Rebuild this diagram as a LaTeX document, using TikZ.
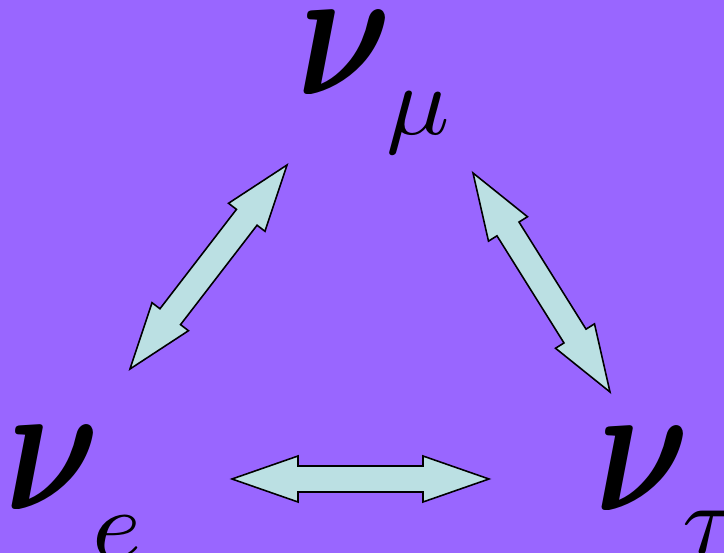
\documentclass[tikz,border=0pt]{standalone}
\usepackage{amsmath}
\usepackage{bm}
\usepackage{graphicx}
\usepackage{xcolor}
\usepackage{tikz}
\usetikzlibrary{calc}
\definecolor{slide}{HTML}{9966FF}
\definecolor{arrowfill}{HTML}{BBE0E3}
\newcommand{\headlen}{1.32cm}
\newcommand{\headhw}{0.46cm}
\newcommand{\shafthw}{0.26cm}
\newcommand{\flavnu}{\scalebox{8.3}[10.7]{$\bm{\nu}$}}
\newcommand{\flavsub}[2][0.8cm]{\raisebox{-#1}{\scalebox{6.0}[5.6]{$#2$}}}
\newcommand{\blockarrow}[2]{%
  \draw[mixarrow] (#1)
    -- ($(#1)!\headlen!(#2)!\headhw!90:(#2)$)
    -- ($(#1)!\headlen!(#2)!\shafthw!90:(#2)$)
    -- ($(#2)!\headlen!(#1)!\shafthw!-90:(#1)$)
    -- ($(#2)!\headlen!(#1)!\headhw!-90:(#1)$)
    -- (#2)
    -- ($(#2)!\headlen!(#1)!\headhw!90:(#1)$)
    -- ($(#2)!\headlen!(#1)!\shafthw!90:(#1)$)
    -- ($(#1)!\headlen!(#2)!\shafthw!-90:(#2)$)
    -- ($(#1)!\headlen!(#2)!\headhw!-90:(#2)$)
    -- cycle;}
\tikzset{
  flavour/.style={
    inner sep=0pt, anchor=base west, text=black},
  mixarrow/.style={
    draw=black, line width=0.9pt, fill=arrowfill, line join=miter},
}

\begin{document}
\begin{tikzpicture}[x=0.02cm, y=-0.02cm]

  \fill[slide] (0,0) rectangle (724,553);
  \useasboundingbox (0,0) rectangle (724,553);

  \node[flavour] (numu) at (297,95) {\flavnu\kern-0.1cm\flavsub{\mu}};
  \node[flavour] (nue) at (5,510) {\flavnu\kern-0.15cm\flavsub[0.98cm]{e}};
  \node[flavour] (nutau) at (595,511) {\flavnu\kern-0.15cm\flavsub[0.86cm]{\tau}};

  % arrow ends
  \coordinate (emE) at (130,369);
  \coordinate (emM) at (287,165);
  \coordinate (mtM) at (473,173);
  \coordinate (mtT) at (610,392);
  \coordinate (etE) at (232,479);
  \coordinate (etT) at (489,479);

  \blockarrow{emE}{emM}
  \blockarrow{mtM}{mtT}
  \blockarrow{etE}{etT}

\end{tikzpicture}
\end{document}
